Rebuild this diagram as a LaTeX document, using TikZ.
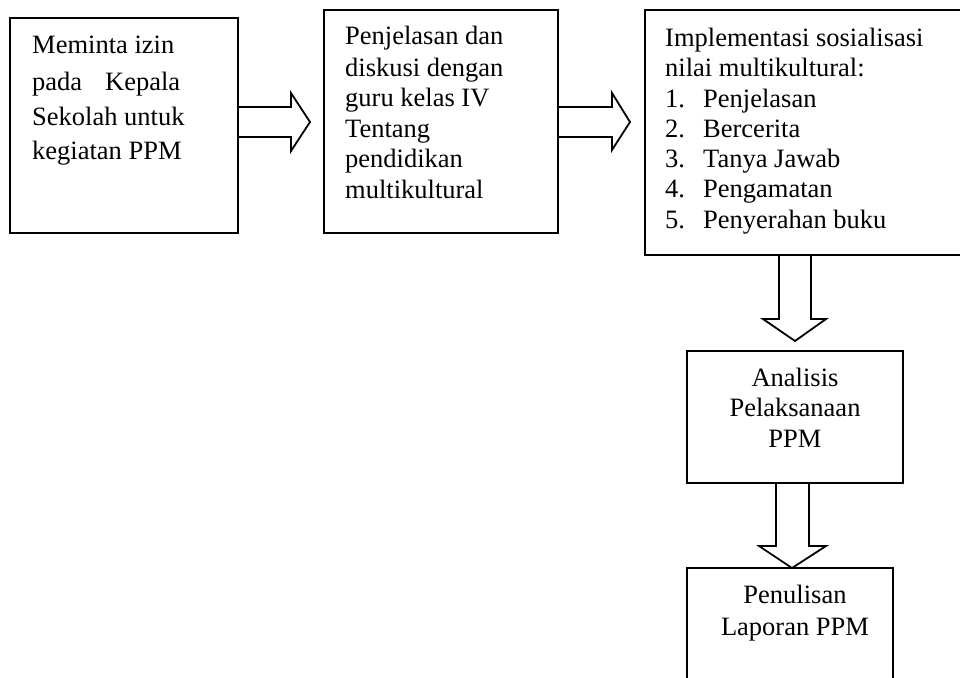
\documentclass[tikz,border=0pt]{standalone}
\usepackage{fontspec}
\setmainfont{Liberation Serif}
\begin{document}
\begin{tikzpicture}[x=1pt,y=-1pt,
  box/.style={draw,line width=1.8pt,rectangle,inner sep=0pt},
  txt/.style={anchor=base west,inner sep=0pt,font=\fontsize{26.5}{30}\selectfont},
  ctxt/.style={anchor=base,inner sep=0pt,font=\fontsize{26.5}{30}\selectfont},
  blockarrow/.style={draw,line width=1.8pt,line join=miter}]
\useasboundingbox (0,0) rectangle (960,677);
\clip (0,0) rectangle (960,677);
% boxes
\node[box,minimum width=228pt,minimum height=215pt] (b1) at (124,125.5) {};
\node[box,minimum width=234pt,minimum height=223pt] (b2) at (441,121.5) {};
\node[box,minimum width=320pt,minimum height=245pt] (b3) at (805,132.5) {};
\node[box,minimum width=216pt,minimum height=132pt] (b4) at (795,417) {};
\node[box,minimum width=206pt,minimum height=132pt] (b5) at (790,634) {};
% box 1 text
\node[txt] (t11) at (32,54) {Meminta izin};
\node[txt] (t12) at (32,90) {pada\hspace{23pt}Kepala};
\node[txt] (t13) at (32,125) {Sekolah untuk};
\node[txt] (t14) at (32,159) {kegiatan PPM};
% box 2 text
\node[txt] (t21) at (345,45) {Penjelasan dan};
\node[txt] (t22) at (345,76) {diskusi dengan};
\node[txt] (t23) at (345,106) {guru kelas IV};
\node[txt] (t24) at (345,137) {Tentang};
\node[txt] (t25) at (345,167) {pendidikan};
\node[txt] (t26) at (345,198) {multikultural};
% box 3 text
\node[txt] (t31) at (665,46) {Implementasi sosialisasi};
\node[txt] (t32) at (665,76) {nilai multikultural:};
\node[txt] (n1) at (665,107) {1.};
\node[txt] (i1) at (703,107) {Penjelasan};
\node[txt] (n2) at (665,137) {2.};
\node[txt] (i2) at (703,137) {Bercerita};
\node[txt] (n3) at (665,167) {3.};
\node[txt] (i3) at (703,167) {Tanya Jawab};
\node[txt] (n4) at (665,197) {4.};
\node[txt] (i4) at (703,197) {Pengamatan};
\node[txt] (n5) at (665,228) {5.};
\node[txt] (i5) at (703,228) {Penyerahan buku};
% box 4 text
\node[ctxt] (t41) at (795,386) {Analisis};
\node[ctxt] (t42) at (795,416) {Pelaksanaan};
\node[ctxt] (t43) at (795,447) {PPM};
% box 5 text
\node[ctxt] (t51) at (795,603) {Penulisan};
\node[ctxt] (t52) at (795,635) {Laporan PPM};
% block arrows
\draw[blockarrow] (b1.east |- 0,107) -- (291,107) -- (291,93) -- (310,122) -- (291,151) -- (291,137) -- (b1.east |- 0,137);
\draw[blockarrow] (b2.east |- 0,107) -- (612,107) -- (612,93) -- (630,122) -- (612,150) -- (612,137) -- (b2.east |- 0,137);
\draw[blockarrow] (779,0 |- b3.south) -- (779,319) -- (763,319) -- (795,341) -- (826,319) -- (811,319) -- (811,0 |- b3.south);
\draw[blockarrow] (776,0 |- b4.south) -- (776,546) -- (759,546) -- (792,568) -- (826,546) -- (809,546) -- (809,0 |- b4.south);
\end{tikzpicture}
\end{document}
